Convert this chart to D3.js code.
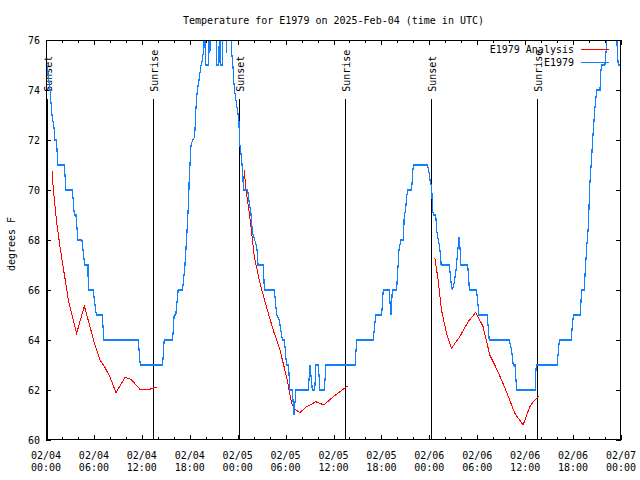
<!DOCTYPE html>
<html><head><meta charset="utf-8">
<script src="https://cdn.jsdelivr.net/npm/d3@7"></script>
<style>
body{margin:0;background:#fff}
text{font-family:"DejaVu Sans Mono","Liberation Mono",monospace;font-size:10px;fill:#000}
</style>
</head><body>
<svg id="chart" width="640" height="480"></svg>
<script>
// ---- data ----
const titleText = "Temperature for E1979 on 2025-Feb-04 (time in UTC)";
const yAxisLabel = "degrees F";
const seriesNames = ["E1979 Analysis", "E1979"];
const seriesColors = ["#ff0000", "#1080ff"];
const yTicks = [60, 62, 64, 66, 68, 70, 72, 74, 76];
const xDomain = ["2025-02-04T00:00:00Z", "2025-02-07T00:00:00Z"];
const sunLabels = ["Sunset", "Sunrise", "Sunset", "Sunrise", "Sunset", "Sunrise"];
const sunHours = [0.17, 13.45, 24.18, 37.43, 48.20, 61.42];

// observed (hours after 2025-02-04 00:00 UTC)
const obsHours = [0.15,0.30,0.50,0.75,1.00,1.10,1.30,1.50,2.30,2.50,3.30,3.55,3.75,4.00,4.50,4.85,5.25,5.30,5.90,6.30,7.05,7.25,11.55,11.80,14.60,14.80,15.85,16.05,16.25,16.55,17.10,17.40,17.65,17.85,17.94,18.16,18.37,18.57,18.66,18.78,18.95,19.16,19.37,19.57,19.78,19.85,19.98,20.30,20.42,20.52,20.62,21.35,21.40,21.65,21.72,21.83,22.07,22.12,22.50,22.58,22.68,23.10,23.25,23.40,23.52,23.65,24.15,24.20,24.28,24.48,24.65,24.72,25.25,25.45,25.65,25.85,26.05,26.40,26.55,27.20,27.35,28.60,28.88,29.20,29.60,29.85,30.12,30.33,30.42,30.55,30.84,31.05,31.30,32.85,33.06,33.35,33.65,33.80,34.10,34.30,34.85,35.06,38.70,38.90,40.98,41.28,42.03,42.23,42.95,43.20,43.37,43.90,44.20,44.45,44.75,44.85,45.05,45.15,45.28,45.78,45.92,46.00,47.75,47.92,48.08,48.30,48.38,48.50,48.80,48.92,49.05,49.25,49.42,49.48,50.50,50.72,50.88,51.12,51.34,51.48,51.72,51.84,51.96,52.80,52.96,53.00,53.90,54.13,54.22,55.25,55.50,58.00,58.30,58.50,58.72,58.94,61.24,61.35,61.40,64.00,64.28,65.74,66.04,66.88,67.08,67.38,67.70,67.90,68.11,68.32,68.53,68.74,68.95,69.15,69.37,69.45,69.58,69.99,70.20,70.40,71.35,71.55,71.66,71.88];
const obsTemps = [75.0,74.5,74.0,73.0,72.5,72.0,72.0,71.0,71.0,70.0,70.0,69.0,69.0,68.0,68.0,67.0,67.0,66.0,66.0,65.0,65.0,64.0,64.0,63.0,63.0,64.0,64.0,65.0,65.0,66.0,66.0,67.0,68.3,69.5,70.5,71.8,72.0,72.1,72.4,73.3,74.0,74.4,74.9,75.2,75.7,77,75,75,77,75.5,77,77,75,75,77,75,75,77,77,75.5,77,77,75.5,75.0,74.3,73.9,72.8,72.3,71.8,71.3,70.6,70.0,70.0,69.5,69.1,68.3,68.1,67.7,67.0,67.0,66.0,66.0,65.0,64.8,64.0,64.0,63.0,63.0,62.7,62.0,62.0,61.0,62.0,62.0,63.0,62.0,62.0,63.0,63.0,62.0,62.0,63.0,63.0,64.0,64.0,65.0,65.0,66.0,66.0,65.0,66.0,66.0,67.6,68.0,68.0,68.9,69.3,69.7,70.0,70.0,70.7,71.0,71.0,70.8,70.4,70.1,69.3,69.0,69.0,68.4,68.1,67.8,67.3,67.0,67.0,66.3,66.0,66.3,66.8,67.3,68.1,67.7,67.0,67.0,66.3,66.0,66.0,65.3,65.0,65.0,64.0,64.0,63.6,63.0,63.0,62.0,62.0,62.8,63.0,63.0,64.0,64.0,65.0,65.0,66.0,66.0,67.7,68.5,70.3,71.3,72.4,73.3,74.0,74.0,74.0,74.7,75.0,75.0,75.8,77,77,75.5,75.0,75.0];

// analysis, three night segments
const anaHours1 = [0.75,0.92,1.33,1.75,2.17,2.58,2.80,3.84,4.80,6.13,6.76,7.38,8.00,8.76,9.89,10.64,11.76,13.00,13.85];
const anaTemps1 = [70.76,70.0,68.73,67.73,66.87,66.07,65.6,64.27,65.36,63.8,63.2,62.9,62.53,61.9,62.5,62.43,62.03,62.03,62.12];
const anaHours2 = [24.83,25.04,25.46,25.76,26.08,26.8,27.6,28.45,29.29,30.12,30.75,31.16,31.79,32.63,33.79,34.8,35.96,37.75];
const anaTemps2 = [70.8,70.0,69.08,68.27,67.33,66.27,65.33,64.4,63.6,62.53,61.47,61.23,61.1,61.33,61.53,61.4,61.73,62.16];
const anaHours3 = [48.69,49.1,49.52,50.15,50.78,51.8,52.86,53.82,54.73,55.57,56.6,57.66,58.7,59.74,60.57,61.2,61.74];
const anaTemps3 = [67.29,66.4,65.2,64.27,63.67,64.13,64.73,65.11,64.53,63.4,62.73,61.93,61.07,60.6,61.33,61.6,61.76];

// ---- chart ----
const L = 46, R = 621, T = 40, B = 440;
const svg = d3.select("#chart");
const t0 = new Date(xDomain[0]);
const hourToDate = h => new Date(t0.getTime() + h * 3600e3);
const x = d3.scaleUtc().domain(xDomain.map(d => new Date(d))).range([L, R]);
const y = d3.scaleLinear().domain([60, 76]).range([B, T]);

svg.append("defs").append("clipPath").attr("id", "clip")
  .append("rect").attr("x", L).attr("y", T).attr("width", R - L).attr("height", B - T);

// title
svg.append("text").attr("x", (L + R) / 2).attr("y", 24).attr("text-anchor", "middle").text(titleText);
// y label
svg.append("text").attr("transform", "translate(11,244) rotate(-90)")
  .attr("text-anchor", "middle").attr("dy", "0.35em").text(yAxisLabel);

const majorX = d3.utcHour.every(6).range(x.domain()[0], new Date(x.domain()[1].getTime() + 1));
const minorX = d3.utcHour.every(2).range(x.domain()[0], new Date(x.domain()[1].getTime() + 1));

function styleAxis(g) {
  g.select(".domain").remove();
  g.selectAll("line").attr("stroke", "#000").attr("shape-rendering", "crispEdges");
  g.selectAll("text").remove();
}
// bottom ticks (inward)
svg.append("g").attr("transform", `translate(0,${B})`)
  .call(d3.axisBottom(x).tickValues(minorX).tickSize(-3)).call(styleAxis);
svg.append("g").attr("transform", `translate(0,${B})`)
  .call(d3.axisBottom(x).tickValues(majorX).tickSize(-5)).call(styleAxis);
// top mirrored
svg.append("g").attr("transform", `translate(0,${T})`)
  .call(d3.axisTop(x).tickValues(minorX).tickSize(-3)).call(styleAxis);
svg.append("g").attr("transform", `translate(0,${T})`)
  .call(d3.axisTop(x).tickValues(majorX).tickSize(-5)).call(styleAxis);
// y ticks
svg.append("g").attr("transform", `translate(${L},0)`)
  .call(d3.axisLeft(y).tickValues(yTicks).tickSize(-5)).call(styleAxis);
svg.append("g").attr("transform", `translate(${R},0)`)
  .call(d3.axisRight(y).tickValues(yTicks).tickSize(-5)).call(styleAxis);

// tick labels
const fmtD = d3.utcFormat("%m/%d"), fmtH = d3.utcFormat("%H:%M");
const xl = svg.append("g");
majorX.forEach(d => {
  xl.append("text").attr("x", x(d)).attr("y", 458.5).attr("text-anchor", "middle").text(fmtD(d));
  xl.append("text").attr("x", x(d)).attr("y", 471).attr("text-anchor", "middle").text(fmtH(d));
});
svg.append("g").selectAll("text").data(yTicks).join("text")
  .attr("x", 40).attr("y", d => y(d)).attr("dy", "0.35em").attr("text-anchor", "end").text(d => d);

// sunrise / sunset markers
const markerTop = 73.65;
sunHours.forEach((h, i) => {
  const xx = Math.round(x(hourToDate(h))) + 0.5;
  svg.append("line").attr("x1", xx).attr("x2", xx).attr("y1", y(markerTop)).attr("y2", B)
    .attr("stroke", "#000").attr("stroke-width", 1).attr("shape-rendering", "crispEdges");
  svg.append("text").attr("transform", `translate(${xx + 1},${y(markerTop) - 7}) rotate(-90)`)
    .attr("text-anchor", "start").attr("dy", "0.35em").text(sunLabels[i]);
});

// data lines
const line = d3.line().x(d => x(hourToDate(d[0]))).y(d => y(d[1]));
const plot = svg.append("g").attr("clip-path", "url(#clip)");
[[anaHours1, anaTemps1], [anaHours2, anaTemps2], [anaHours3, anaTemps3]].forEach(([hs, vs]) => {
  plot.append("path").attr("d", line(d3.zip(hs, vs))).attr("fill", "none")
    .attr("stroke", seriesColors[0]).attr("stroke-width", 1).attr("shape-rendering", "crispEdges");
});
plot.append("path").attr("d", line(d3.zip(obsHours, obsTemps))).attr("fill", "none")
  .attr("stroke", seriesColors[1]).attr("stroke-width", 1.2).attr("shape-rendering", "crispEdges");

// border
svg.append("rect").attr("x", L + 0.5).attr("y", T + 0.5).attr("width", R - L - 1).attr("height", B - T - 1)
  .attr("fill", "none").attr("stroke", "#000").attr("shape-rendering", "crispEdges");

// legend
const legY = [49.5, 62.5];
seriesNames.forEach((n, i) => {
  svg.append("text").attr("x", 574).attr("y", legY[i]).attr("dy", "0.35em").attr("text-anchor", "end").text(n);
  svg.append("line").attr("x1", 581).attr("x2", 609).attr("y1", legY[i]).attr("y2", legY[i])
    .attr("stroke", seriesColors[i]).attr("stroke-width", 1).attr("shape-rendering", "crispEdges");
});
</script>
</body></html>
